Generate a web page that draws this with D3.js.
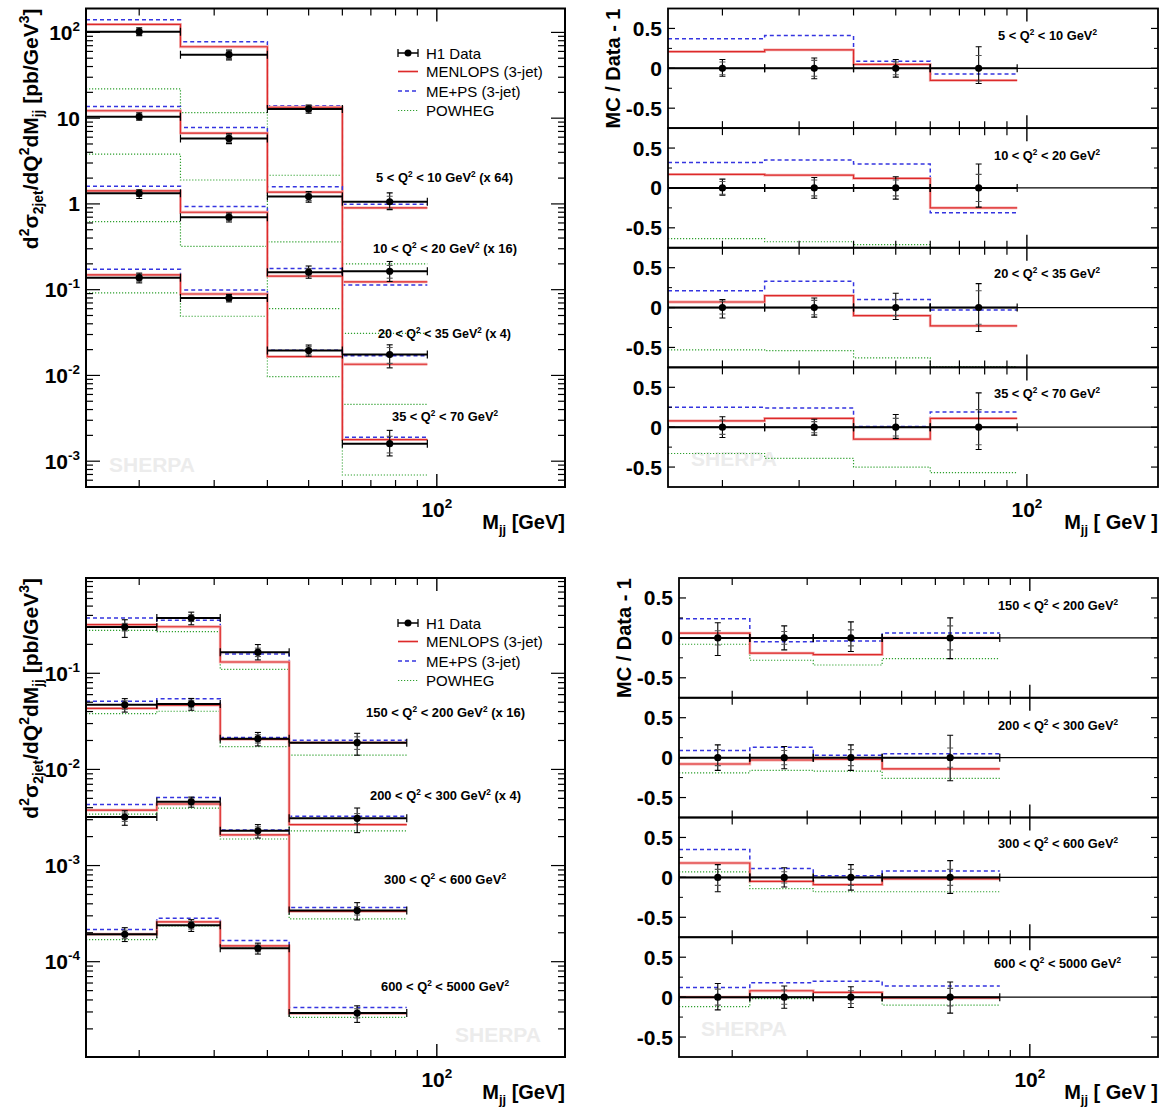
<!DOCTYPE html>
<html><head><meta charset="utf-8">
<script src="https://cdn.jsdelivr.net/npm/d3@7"></script>
<style>body{margin:0;background:#fff}</style>
</head><body>
<script>
// ---------------- DATA ----------------
const xDomain = [15, 200];
const lowEdges = [15, 25, 40, 60, 95];
const lowCenters = [20, 32.5, 50, 77.5];
const highEdges = [15, 22, 31, 45, 85];
const highCenters = [18.5, 26.5, 38, 65];

const legendLabels = ["H1 Data", "MENLOPS (3-jet)", "ME+PS (3-jet)", "POWHEG"];
const lowLabelsScaled = ["5 < Q^{2} < 10 GeV^{2} (x 64)", "10 < Q^{2} < 20 GeV^{2} (x 16)", "20 < Q^{2} < 35 GeV^{2} (x 4)", "35 < Q^{2} < 70 GeV^{2}"];
const lowLabels = ["5 < Q^{2} < 10 GeV^{2}", "10 < Q^{2} < 20 GeV^{2}", "20 < Q^{2} < 35 GeV^{2}", "35 < Q^{2} < 70 GeV^{2}"];
const highLabelsScaled = ["150 < Q^{2} < 200 GeV^{2} (x 16)", "200 < Q^{2} < 300 GeV^{2} (x 4)", "300 < Q^{2} < 600 GeV^{2}", "600 < Q^{2} < 5000 GeV^{2}"];
const highLabels = ["150 < Q^{2} < 200 GeV^{2}", "200 < Q^{2} < 300 GeV^{2}", "300 < Q^{2} < 600 GeV^{2}", "600 < Q^{2} < 5000 GeV^{2}"];

// low Q2: cross sections (already multiplied by the scale factor)
const lowData    = [[102, 55, 12.8, 1.06], [10.4, 5.8, 1.22, 0.164], [1.33, 0.70, 0.160, 0.0175], [0.138, 0.080, 0.0195, 0.0016]];
const lowMenlops = [[124, 68, 13.4, 0.90], [12.2, 6.7, 1.37, 0.123], [1.42, 0.80, 0.144, 0.0135], [0.149, 0.089, 0.0166, 0.00178]];
const lowMEPS    = [[140, 78, 14.0, 0.99], [13.7, 7.8, 1.59, 0.113], [1.61, 0.93, 0.176, 0.0170], [0.173, 0.099, 0.0197, 0.0019]];
const lowPowheg  = [[22, 11.6, 2.16, 0.20], [3.8, 1.9, 0.36, 0.031], [0.62, 0.32, 0.060, 0.0046], [0.092, 0.049, 0.0097, 0.00069]];
const lowErrUp   = [[0.11, 0.13, 0.11, 0.27], [0.11, 0.13, 0.14, 0.30], [0.10, 0.12, 0.18, 0.30], [0.13, 0.10, 0.16, 0.43]];
const lowErrDn   = [[0.10, 0.13, 0.11, 0.19], [0.09, 0.13, 0.14, 0.24], [0.13, 0.12, 0.15, 0.30], [0.13, 0.10, 0.14, 0.28]];
const lowStat    = [[0.08, 0.10, 0.08, 0.16], [0.08, 0.10, 0.10, 0.17], [0.08, 0.09, 0.10, 0.21], [0.09, 0.07, 0.11, 0.22]];
// low Q2: MC / Data - 1
const lowRatioMenlops = [[0.21, 0.23, 0.05, -0.15], [0.17, 0.16, 0.12, -0.25], [0.07, 0.15, -0.10, -0.23], [0.08, 0.11, -0.15, 0.11]];
const lowRatioMEPS    = [[0.37, 0.41, 0.09, -0.07], [0.32, 0.35, 0.30, -0.31], [0.21, 0.33, 0.10, -0.03], [0.25, 0.24, 0.01, 0.19]];
const lowRatioPowheg  = [[-0.78, -0.79, -0.83, -0.81], [-0.635, -0.675, -0.71, -0.81], [-0.53, -0.54, -0.63, -0.74], [-0.33, -0.39, -0.50, -0.57]];

// high Q2
const highData    = [[0.303, 0.376, 0.166, 0.019], [0.047, 0.048, 0.0209, 0.0031], [0.0032, 0.0046, 0.0023, 0.00034], [0.000193, 0.00024, 0.000138, 0.0000292]];
const highMenlops = [[0.321, 0.305, 0.131, 0.019], [0.0432, 0.0466, 0.0205, 0.00267], [0.00378, 0.00437, 0.00209, 0.000333], [0.000193, 0.000259, 0.000146, 0.0000289]];
const highMEPS    = [[0.376, 0.357, 0.159, 0.0201], [0.0512, 0.0542, 0.0215, 0.00326], [0.00432, 0.0051, 0.00235, 0.000367], [0.000216, 0.000283, 0.000166, 0.0000333]];
const highPowheg  = [[0.279, 0.271, 0.110, 0.0141], [0.038, 0.0403, 0.0173, 0.00229], [0.00342, 0.00396, 0.00189, 0.000279], [0.00017, 0.000235, 0.000138, 0.0000263]];
const highErrUp   = [[0.19, 0.15, 0.20, 0.25], [0.16, 0.14, 0.16, 0.28], [0.16, 0.12, 0.16, 0.21], [0.17, 0.14, 0.13, 0.19]];
const highErrDn   = [[0.22, 0.15, 0.17, 0.26], [0.16, 0.14, 0.16, 0.29], [0.18, 0.12, 0.16, 0.20], [0.16, 0.14, 0.13, 0.20]];
const highStat    = [[0.09, 0.08, 0.10, 0.15], [0.10, 0.09, 0.10, 0.12], [0.10, 0.07, 0.10, 0.10], [0.10, 0.09, 0.08, 0.11]];
const highRatioMenlops = [[0.06, -0.19, -0.21, 0.0], [-0.08, -0.03, -0.02, -0.14], [0.18, -0.05, -0.09, -0.02], [0.0, 0.08, 0.06, -0.01]];
const highRatioMEPS    = [[0.24, -0.05, -0.04, 0.06], [0.09, 0.13, 0.03, 0.05], [0.35, 0.11, 0.02, 0.08], [0.12, 0.18, 0.20, 0.14]];
const highRatioPowheg  = [[-0.08, -0.28, -0.34, -0.26], [-0.19, -0.16, -0.17, -0.26], [0.07, -0.14, -0.18, -0.18], [-0.12, -0.02, 0.0, -0.10]];

const xMinorTicks = [20, 30, 40, 50, 60, 70, 80, 90];
const xMajorTicks = [100];
const ratioMajorTicks = [-0.5, 0, 0.5];
const ratioMinorTicks = [-0.25, 0.25];

// ---------------- STYLE ----------------
const FF = '"Liberation Sans", Arial, Helvetica, sans-serif';
const RED = "#dd2a2a", RED_BAND = "#f4b0b0", BLUE = "#3535e0", GREEN = "#2ea02e";

const svg = d3.select("body").append("svg").attr("width", 1165).attr("height", 1110)
  .style("font-family", FF);

function rich(sel, str, fs, subScale) {
  const sc = subScale || 0.64;
  const toks = str.split(/(\^\{[^}]*\}|_\{[^}]*\})/).filter(s => s.length);
  let cur = 0;
  toks.forEach(tok => {
    let t = tok, shift = 0, size = fs;
    if (tok.startsWith("^{")) { t = tok.slice(2, -1); shift = -0.42 * fs; size = sc * fs; }
    else if (tok.startsWith("_{")) { t = tok.slice(2, -1); shift = 0.26 * fs; size = sc * fs; }
    sel.append("tspan").attr("dy", shift - cur).attr("font-size", size).text(t);
    cur = shift;
  });
  return sel;
}

function stepLine(xs, ys, edges, vals) {
  const pts = edges.map((e, i) => [e, vals[Math.min(i, vals.length - 1)]]);
  return d3.line().x(d => xs(d[0])).y(d => ys(d[1])).curve(d3.curveStepAfter)(pts);
}

function drawMC(g, xs, ys, edges, vals, kind) {
  const d = stepLine(xs, ys, edges, vals);
  if (kind === "green") g.append("path").attr("d", d).attr("fill", "none").attr("stroke", GREEN).attr("stroke-width", 1.2).attr("stroke-dasharray", "1.2,1.8");
  if (kind === "blue") g.append("path").attr("d", d).attr("fill", "none").attr("stroke", BLUE).attr("stroke-width", 1.5).attr("stroke-dasharray", "4,3");
  if (kind === "red") {
    g.append("path").attr("d", d).attr("fill", "none").attr("stroke", RED_BAND).attr("stroke-width", 2.8);
    g.append("path").attr("d", d).attr("fill", "none").attr("stroke", RED).attr("stroke-width", 1.2);
  }
}

function drawDataPoint(g, x0p, x1p, xc, yc, yUp, yDn, ySU, ySD) {
  g.append("line").attr("x1", x0p).attr("x2", x1p).attr("y1", yc).attr("y2", yc).attr("stroke", "#000").attr("stroke-width", 2);
  [x0p, x1p].forEach(xx => g.append("line").attr("x1", xx).attr("x2", xx).attr("y1", yc - 4).attr("y2", yc + 4).attr("stroke", "#000").attr("stroke-width", 1.2));
  g.append("line").attr("x1", xc).attr("x2", xc).attr("y1", yUp).attr("y2", yDn).attr("stroke", "#000").attr("stroke-width", 1.1);
  [yUp, yDn].forEach(yy => g.append("line").attr("x1", xc - 3).attr("x2", xc + 3).attr("y1", yy).attr("y2", yy).attr("stroke", "#000").attr("stroke-width", 1.1));
  [ySU, ySD].forEach(yy => g.append("line").attr("x1", xc - 3).attr("x2", xc + 3).attr("y1", yy).attr("y2", yy).attr("stroke", "#555").attr("stroke-width", 1.1));
  g.append("circle").attr("cx", xc).attr("cy", yc).attr("r", 3.6).attr("fill", "#000");
}

function xTicks(g, xs, yTop, yBot) {
  xMinorTicks.forEach(v => {
    g.append("line").attr("x1", xs(v)).attr("x2", xs(v)).attr("y1", yTop).attr("y2", yTop + 7).attr("stroke", "#000").attr("stroke-width", 1.2);
    g.append("line").attr("x1", xs(v)).attr("x2", xs(v)).attr("y1", yBot).attr("y2", yBot - 7).attr("stroke", "#000").attr("stroke-width", 1.2);
  });
  xMajorTicks.forEach(v => {
    g.append("line").attr("x1", xs(v)).attr("x2", xs(v)).attr("y1", yTop).attr("y2", yTop + 13).attr("stroke", "#000").attr("stroke-width", 1.4);
    g.append("line").attr("x1", xs(v)).attr("x2", xs(v)).attr("y1", yBot).attr("y2", yBot - 13).attr("stroke", "#000").attr("stroke-width", 1.4);
  });
}

function sherpa(x, y) {
  svg.append("text").attr("x", x).attr("y", y).attr("text-anchor", "middle").attr("font-weight", "bold")
    .attr("font-size", 21).attr("fill", "#ececec").text("SHERPA");
}

function annot(x, y, w, str) {
  const t = svg.append("text").attr("x", x).attr("y", y).attr("font-weight", "bold").attr("fill", "#000")
    .attr("textLength", w).attr("lengthAdjust", "spacingAndGlyphs");
  rich(t, str, 13);
}

function legend(x, y) {
  const rows = [0, 18.5, 38, 57.5];
  let yy = y + rows[0];
  svg.append("line").attr("x1", x).attr("x2", x + 20).attr("y1", yy).attr("y2", yy).attr("stroke", "#000").attr("stroke-width", 1.5);
  [x, x + 20].forEach(xx => svg.append("line").attr("x1", xx).attr("x2", xx).attr("y1", yy - 4).attr("y2", yy + 4).attr("stroke", "#000").attr("stroke-width", 1.3));
  svg.append("circle").attr("cx", x + 10).attr("cy", yy).attr("r", 3.5).attr("fill", "#000");
  yy = y + rows[1];
  svg.append("line").attr("x1", x).attr("x2", x + 20).attr("y1", yy).attr("y2", yy).attr("stroke", RED_BAND).attr("stroke-width", 2.8);
  svg.append("line").attr("x1", x).attr("x2", x + 20).attr("y1", yy).attr("y2", yy).attr("stroke", RED).attr("stroke-width", 1);
  yy = y + rows[2];
  svg.append("line").attr("x1", x).attr("x2", x + 20).attr("y1", yy).attr("y2", yy).attr("stroke", BLUE).attr("stroke-width", 1.5).attr("stroke-dasharray", "4,3");
  yy = y + rows[3];
  svg.append("line").attr("x1", x).attr("x2", x + 20).attr("y1", yy).attr("y2", yy).attr("stroke", GREEN).attr("stroke-width", 1.2).attr("stroke-dasharray", "1.2,1.8");
  legendLabels.forEach((l, i) => svg.append("text").attr("x", x + 28).attr("y", y + rows[i] + 5.5).attr("font-size", 15).text(l));
}

function logPanel(o) {
  const xs = d3.scaleLog().domain(xDomain).range([o.x0, o.x1]);
  const ys = d3.scaleLog().domain(o.yDomain).range([o.y1, o.y0]);
  sherpa(o.sherpa[0], o.sherpa[1]);
  const cid = "clip" + o.id;
  svg.append("clipPath").attr("id", cid).append("rect").attr("x", o.x0).attr("y", o.y0).attr("width", o.x1 - o.x0).attr("height", o.y1 - o.y0);
  const g = svg.append("g").attr("clip-path", `url(#${cid})`);
  for (let k = 0; k < 4; k++) {
    drawMC(g, xs, ys, o.edges, o.powheg[k], "green");
    drawMC(g, xs, ys, o.edges, o.meps[k], "blue");
    drawMC(g, xs, ys, o.edges, o.menlops[k], "red");
  }
  for (let k = 0; k < 4; k++) {
    o.data[k].forEach((v, i) => {
      drawDataPoint(g, xs(o.edges[i]), xs(o.edges[i + 1]), xs(o.centers[i]), ys(v),
        ys(v * (1 + o.errUp[k][i])), ys(v * (1 - o.errDn[k][i])),
        ys(v * (1 + o.stat[k][i])), ys(v * (1 - o.stat[k][i])));
    });
  }
  svg.append("rect").attr("x", o.x0).attr("y", o.y0).attr("width", o.x1 - o.x0).attr("height", o.y1 - o.y0)
    .attr("fill", "none").attr("stroke", "#000").attr("stroke-width", 2);
  const ax = svg.append("g");
  xTicks(ax, xs, o.y0, o.y1);
  const [lo, hi] = o.yDomain;
  for (let e = Math.floor(Math.log10(lo)); e <= Math.ceil(Math.log10(hi)); e++) {
    for (let m = 1; m <= 9; m++) {
      const v = m * Math.pow(10, e);
      if (v < lo || v > hi) continue;
      const len = m === 1 ? 14 : 7;
      const yy = ys(v);
      ax.append("line").attr("x1", o.x0).attr("x2", o.x0 + len).attr("y1", yy).attr("y2", yy).attr("stroke", "#000").attr("stroke-width", 1.2);
      ax.append("line").attr("x1", o.x1).attr("x2", o.x1 - len).attr("y1", yy).attr("y2", yy).attr("stroke", "#000").attr("stroke-width", 1.2);
      if (m === 1) {
        const lab = e === 0 ? "1" : e === 1 ? "10" : `10^{${e}}`;
        const t = ax.append("text").attr("x", o.x0 - 6).attr("y", yy + 7.5).attr("text-anchor", "end").attr("font-weight", "bold");
        rich(t, lab, 21);
      }
    }
  }
  const tx = ax.append("text").attr("x", xs(100)).attr("y", o.y1 + 30).attr("text-anchor", "middle").attr("font-weight", "bold");
  rich(tx, "10^{2}", 21);
  const tt = ax.append("text").attr("x", o.x1).attr("y", o.y1 + 42).attr("text-anchor", "end").attr("font-weight", "bold");
  rich(tt, "M_{jj} [GeV]", 20);
  const yt = ax.append("text").attr("transform", `translate(${o.x0 - 48},${o.y0}) rotate(-90)`).attr("text-anchor", "end").attr("font-weight", "bold");
  rich(yt, "d^{2}σ_{2jet}/dQ^{2}dM_{jj} [pb/GeV^{3}]", 21, 0.66);
  legend(o.legend[0], o.legend[1]);
  o.annots.forEach((a, k) => annot(a[0], a[1], a[2], o.labels[k]));
}

function ratioPanel(o) {
  const xs = d3.scaleLog().domain(xDomain).range([o.x0, o.x1]);
  const h = (o.y1 - o.y0) / 4;
  sherpa(o.sherpa[0], o.sherpa[1]);
  for (let k = 0; k < 4; k++) {
    const t0 = o.y0 + k * h, t1 = t0 + h;
    const ys = d3.scaleLinear().domain([-0.75, 0.75]).range([t1, t0]);
    const cid = "clip" + o.id + k;
    svg.append("clipPath").attr("id", cid).append("rect").attr("x", o.x0).attr("y", t0).attr("width", o.x1 - o.x0).attr("height", h);
    const g = svg.append("g").attr("clip-path", `url(#${cid})`);
    g.append("line").attr("x1", o.x0).attr("x2", o.x1).attr("y1", ys(0)).attr("y2", ys(0)).attr("stroke", "#000").attr("stroke-width", 1.2);
    drawMC(g, xs, ys, o.edges, o.powheg[k], "green");
    drawMC(g, xs, ys, o.edges, o.meps[k], "blue");
    drawMC(g, xs, ys, o.edges, o.menlops[k], "red");
    o.errUp[k].forEach((u, i) => {
      drawDataPoint(g, xs(o.edges[i]), xs(o.edges[i + 1]), xs(o.centers[i]), ys(0),
        ys(u), ys(-o.errDn[k][i]), ys(o.stat[k][i]), ys(-o.stat[k][i]));
    });
    svg.append("rect").attr("x", o.x0).attr("y", t0).attr("width", o.x1 - o.x0).attr("height", h)
      .attr("fill", "none").attr("stroke", "#000").attr("stroke-width", 1.8);
    const ax = svg.append("g");
    xTicks(ax, xs, t0, t1);
    ratioMajorTicks.forEach(v => {
      ax.append("line").attr("x1", o.x0).attr("x2", o.x0 + 7).attr("y1", ys(v)).attr("y2", ys(v)).attr("stroke", "#000").attr("stroke-width", 1.2);
      ax.append("line").attr("x1", o.x1).attr("x2", o.x1 - 7).attr("y1", ys(v)).attr("y2", ys(v)).attr("stroke", "#000").attr("stroke-width", 1.2);
      ax.append("text").attr("x", o.x0 - 6).attr("y", ys(v) + 7.5).attr("text-anchor", "end").attr("font-weight", "bold").attr("font-size", 21).text(v === 0 ? "0" : String(v));
    });
    ratioMinorTicks.forEach(v => {
      ax.append("line").attr("x1", o.x0).attr("x2", o.x0 + 4).attr("y1", ys(v)).attr("y2", ys(v)).attr("stroke", "#000").attr("stroke-width", 1);
      ax.append("line").attr("x1", o.x1).attr("x2", o.x1 - 4).attr("y1", ys(v)).attr("y2", ys(v)).attr("stroke", "#000").attr("stroke-width", 1);
    });
    annot(o.annots[k][0], o.annots[k][1], o.annots[k][2], o.labels[k]);
  }
  const tx = svg.append("text").attr("x", xs(100)).attr("y", o.y1 + 30).attr("text-anchor", "middle").attr("font-weight", "bold");
  rich(tx, "10^{2}", 21);
  const tt = svg.append("text").attr("x", o.x1).attr("y", o.y1 + 42).attr("text-anchor", "end").attr("font-weight", "bold");
  rich(tt, "M_{jj} [ GeV ]", 20);
  svg.append("text").attr("transform", `translate(${o.x0 - 48},${o.y0}) rotate(-90)`).attr("text-anchor", "end")
    .attr("font-weight", "bold").attr("font-size", 20).text("MC / Data - 1");
}

logPanel({ id: "tl", x0: 86, x1: 565, y0: 8.5, y1: 487, yDomain: [5e-4, 190], edges: lowEdges, centers: lowCenters,
  data: lowData, menlops: lowMenlops, meps: lowMEPS, powheg: lowPowheg, errUp: lowErrUp, errDn: lowErrDn, stat: lowStat,
  labels: lowLabelsScaled, annots: [[376, 182, 137], [373, 253, 144], [378, 338, 133], [392, 421, 106]],
  legend: [398, 53], sherpa: [152, 472] });

ratioPanel({ id: "tr", x0: 668, x1: 1158, y0: 8.5, y1: 487, edges: lowEdges, centers: lowCenters,
  menlops: lowRatioMenlops, meps: lowRatioMEPS, powheg: lowRatioPowheg, errUp: lowErrUp, errDn: lowErrDn, stat: lowStat,
  labels: lowLabels, annots: [[998, 40, 99], [994, 160, 106], [994, 278, 106], [994, 398, 106]], sherpa: [734, 466] });

logPanel({ id: "bl", x0: 86, x1: 565, y0: 578, y1: 1057, yDomain: [1.02e-5, 0.98], edges: highEdges, centers: highCenters,
  data: highData, menlops: highMenlops, meps: highMEPS, powheg: highPowheg, errUp: highErrUp, errDn: highErrDn, stat: highStat,
  labels: highLabelsScaled, annots: [[366, 717, 159], [370, 800, 151], [384, 884, 122], [381, 991, 128]],
  legend: [398, 623], sherpa: [498, 1042] });

ratioPanel({ id: "br", x0: 679, x1: 1158, y0: 578, y1: 1057, edges: highEdges, centers: highCenters,
  menlops: highRatioMenlops, meps: highRatioMEPS, powheg: highRatioPowheg, errUp: highErrUp, errDn: highErrDn, stat: highStat,
  labels: highLabels, annots: [[998, 610, 120], [998, 730, 120], [998, 848, 120], [994, 968, 127]], sherpa: [744, 1036] });
</script>
</body></html>
